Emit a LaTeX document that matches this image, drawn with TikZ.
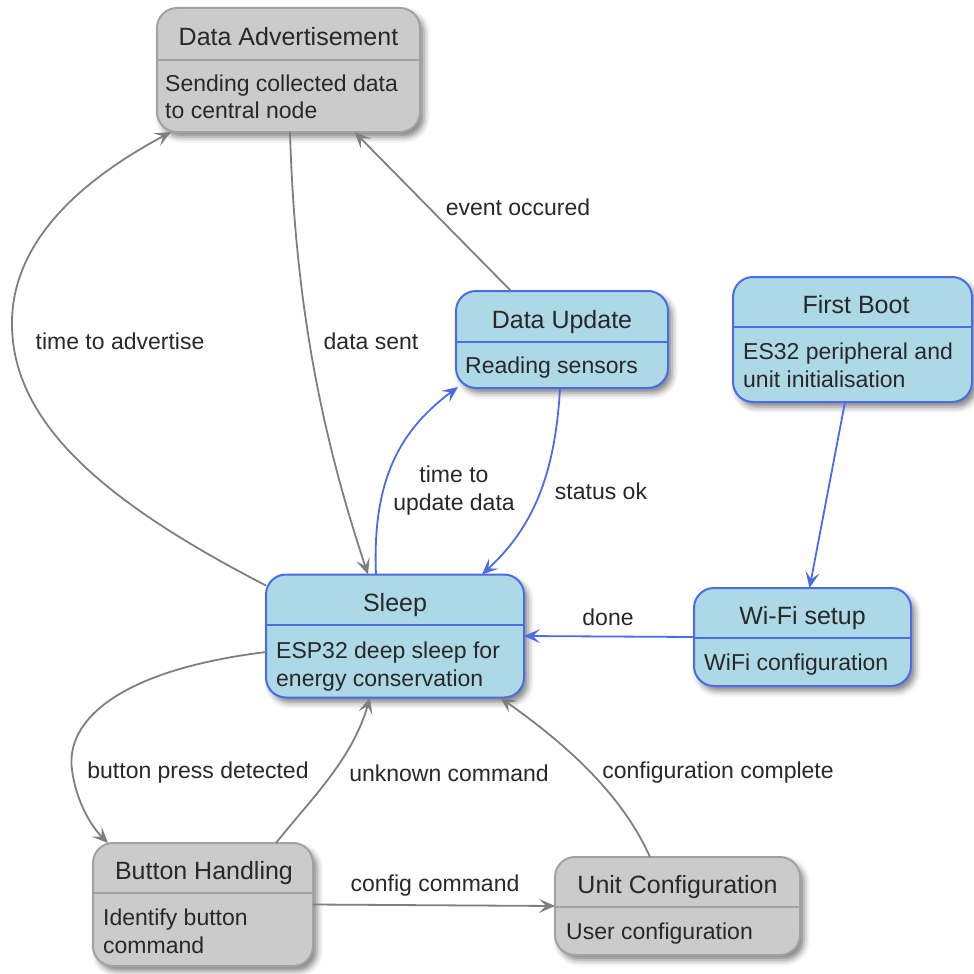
\documentclass[tikz,border=0pt]{standalone}
\usepackage{fontspec}
\setmainfont{Liberation Sans}
\usetikzlibrary{arrows.meta,shadows.blur,calc}

\definecolor{stblue}{HTML}{ADD8E6}
\definecolor{stblueline}{HTML}{4A6CE4}
\definecolor{stgray}{HTML}{CBCBCB}
\definecolor{stgrayline}{HTML}{A2A2A2}
\definecolor{edgegray}{HTML}{7F7F7F}
\definecolor{ink}{HTML}{282828}

% two-line body text whose baseline is that of its first line
\newcommand\twolines[2]{\vtop{\baselineskip=28pt\hbox{#1}\hbox{#2}}}

\begin{document}
\begin{tikzpicture}[x=1pt,y=-1pt,
  box/.style={rounded corners=20pt, line width=2pt, outer sep=0pt, inner sep=0pt,
    blur shadow={shadow xshift=4pt, shadow yshift=-5pt, shadow blur radius=6pt, shadow opacity=50}},
  bluebox/.style={box, draw=stblueline, fill=stblue},
  graybox/.style={box, draw=stgrayline, fill=stgray},
  bluediv/.style={draw=stblueline, line width=2pt},
  graydiv/.style={draw=stgrayline, line width=2pt},
  titletext/.style={font=\fontsize{25}{30}\selectfont, text=ink, inner sep=0pt, anchor=base},
  bodytext/.style={font=\fontsize{23}{28}\selectfont, text=ink, inner sep=0pt, anchor=base west},
  lab/.style={font=\fontsize{23}{28}\selectfont, text=ink, inner sep=0pt, align=center},
  tip/.style={-{Stealth[length=16pt,width=14pt,inset=7pt]}},
  gedge/.style={draw=edgegray, line width=1.8pt, tip},
  bedge/.style={draw=stblueline, line width=1.8pt, tip},
]
\useasboundingbox (0,0) rectangle (974,974);

% ---- states ----
% Data Advertisement
\node[graybox, minimum width=263pt, minimum height=124pt] (da) at (288.5,70) {};
\draw[graydiv] (da.west |- 0,60) -- (da.east |- 0,60);
\node[titletext] (da-t) at (288.5,46) {Data Advertisement};
\node[bodytext] (da-b) at (165,91) {\twolines{Sending collected data}{to central node}};

% Data Update
\node[bluebox, minimum width=212pt, minimum height=97pt] (du) at (562,339.5) {};
\draw[bluediv] (du.west |- 0,342) -- (du.east |- 0,342);
\node[titletext] (du-t) at (562,328) {Data Update};
\node[bodytext] (du-b) at (465,373) {Reading sensors};

% First Boot
\node[bluebox, minimum width=239pt, minimum height=125pt] (fb) at (852.5,339.5) {};
\draw[bluediv] (fb.west |- 0,327) -- (fb.east |- 0,327);
\node[titletext] (fb-t) at (856,313) {First Boot};
\node[bodytext] (fb-b) at (743,359) {\twolines{ES32 peripheral and}{unit initialisation}};

% Sleep
\node[bluebox, minimum width=258pt, minimum height=123pt] (sleep) at (395,636) {};
\draw[bluediv] (sleep.west |- 0,625) -- (sleep.east |- 0,625);
\node[titletext] (sleep-t) at (395,611) {Sleep};
\node[bodytext] (sleep-b) at (276,658) {\twolines{ESP32 deep sleep for}{energy conservation}};

% Wi-Fi setup
\node[bluebox, minimum width=217pt, minimum height=98pt] (wifi) at (802.5,637) {};
\draw[bluediv] (wifi.west |- 0,638) -- (wifi.east |- 0,638);
\node[titletext] (wifi-t) at (802.5,624) {Wi-Fi setup};
\node[bodytext] (wifi-b) at (704,670) {WiFi configuration};

% Button Handling
\node[graybox, minimum width=220pt, minimum height=123pt] (bh) at (203,904.5) {};
\draw[graydiv] (bh.west |- 0,893) -- (bh.east |- 0,893);
\node[titletext] (bh-t) at (204,879) {Button Handling};
\node[bodytext] (bh-b) at (103,925) {\twolines{Identify button}{command}};

% Unit Configuration
\node[graybox, minimum width=245pt, minimum height=98pt] (uc) at (677.5,906) {};
\draw[graydiv] (uc.west |- 0,907) -- (uc.east |- 0,907);
\node[titletext] (uc-t) at (677.5,893) {Unit Configuration};
\node[bodytext] (uc-b) at (566,939) {User configuration};

% ---- transitions ----
\draw[gedge] ([yshift=-11pt]sleep.north west)
  .. controls (100,500) and (10,420) .. (12,320)
  .. controls (14,230) and (100,170) .. ([xshift=14pt]da.south west);
\node[lab] (l-adv) at (120,341) {time to advertise};

\draw[gedge] ([xshift=1.5pt]da.south)
  .. controls (295,300) and (320,430) .. ([xshift=-27pt]sleep.north);
\node[lab] (l-sent) at (371,341) {data sent};

\draw[gedge] ([xshift=-51pt]du.north) -- ([xshift=66pt]da.south);
\node[lab] (l-event) at (518,207) {event occured};

\draw[bedge] ([xshift=-19pt]sleep.north)
  .. controls (372,480) and (400,430) .. ([xshift=2pt,yshift=1pt]du.south west);
\node[lab] (l-upd) at (454,491) {time to\\update data};

\draw[bedge] ([xshift=-2pt]du.south)
  .. controls (555,480) and (530,530) .. ([xshift=87pt]sleep.north);
\node[lab] (l-ok) at (601,491) {status ok};

\draw[bedge] ([xshift=-7.5pt]fb.south) -- ([xshift=7pt]wifi.north);

\draw[bedge] (wifi.west) -- (sleep.east);
\node[lab] (l-done) at (608,617) {done};

\draw[gedge] ([yshift=-16pt]sleep.west)
  .. controls (120,670) and (65,720) .. (72,770)
  .. controls (76,800) and (90,825) .. ([xshift=15pt]bh.north west);
\node[lab] (l-press) at (198,773) {button press detected};

\draw[gedge] ([xshift=73pt]bh.north)
  .. controls (310,800) and (352,760) .. ([xshift=-25pt]sleep.south);
\node[lab] (l-unk) at (449,773) {unknown command};

\draw[gedge] (bh.east) -- (uc.west);
\node[lab] (l-cfg) at (435,886) {config command};

\draw[gedge] ([xshift=-27.5pt]uc.north)
  .. controls (620,790) and (560,740) .. ([xshift=105pt]sleep.south);
\node[lab] (l-done2) at (718,773) {configuration complete};
\end{tikzpicture}
\end{document}
